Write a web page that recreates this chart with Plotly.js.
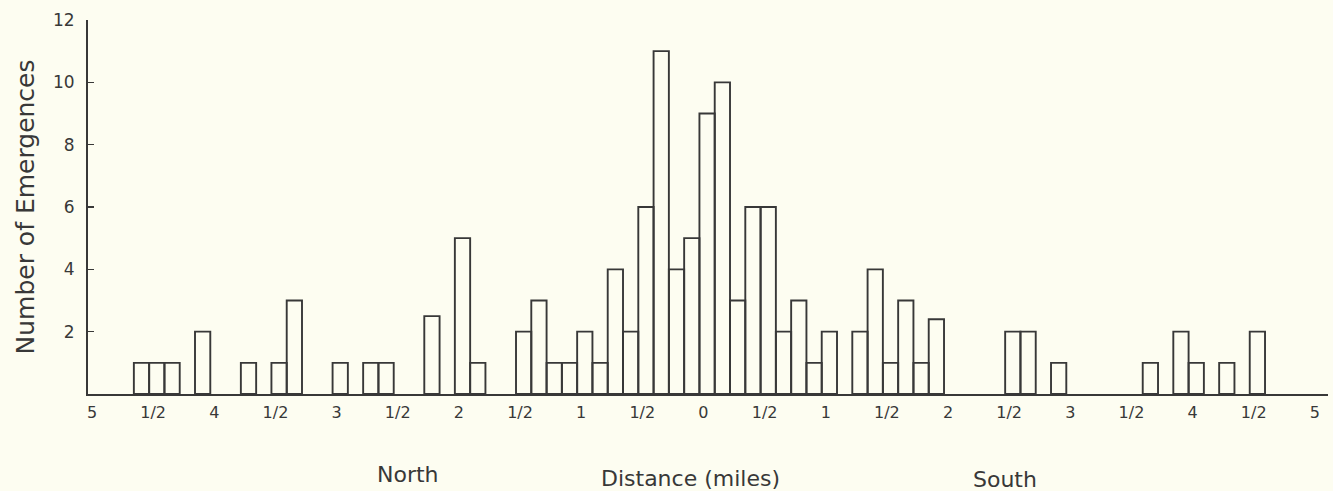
<!DOCTYPE html>
<html>
<head>
<meta charset="utf-8">
<script src="https://cdn.plot.ly/plotly-3.0.1.min.js"></script>
<style>
  html, body { margin: 0; padding: 0; background: #fdfdf1; }
  #chart { width: 1333px; height: 491px; }
</style>
</head>
<body>
<div id="chart"></div>
<script>
// Emergences counted in 1/8-mile strips; negative distance = North, positive = South.
const binWidthMiles = 0.125;
const distanceMiles = [
  -4.5625, -4.4375, -4.3125, -4.0625, -3.6875, -3.4375, -3.3125, -2.9375,
  -2.6875, -2.5625, -2.1875, -1.9375, -1.8125, -1.4375, -1.3125, -1.1875,
  -1.0625, -0.9375, -0.8125, -0.6875, -0.5625, -0.4375, -0.3125, -0.1875,
  -0.0625, 0.0625, 0.1875, 0.3125, 0.4375, 0.5625, 0.6875, 0.8125,
  0.9375, 1.0625, 1.3125, 1.4375, 1.5625, 1.6875, 1.8125, 1.9375,
  2.5625, 2.6875, 2.9375, 3.6875, 3.9375, 4.0625, 4.3125, 4.5625
];
const emergences = [
  1, 1, 1, 2, 1, 1, 3, 1,
  1, 1, 2.5, 5, 1, 2, 3, 1,
  1, 2, 1, 4, 2, 6, 11, 4,
  5, 9, 10, 3, 6, 6, 2, 3,
  1, 2, 2, 4, 1, 3, 1, 2.4,
  2, 2, 1, 1, 2, 1, 1, 2
];

// Axis ticks: distance from the origin in half-mile steps
const tickMiles = [-5, -4.5, -4, -3.5, -3, -2.5, -2, -1.5, -1, -0.5, 0,
                   0.5, 1, 1.5, 2, 2.5, 3, 3.5, 4, 4.5, 5];
const tickLabels = ['5', '1/2', '4', '1/2', '3', '1/2', '2', '1/2', '1', '1/2', '0',
                    '1/2', '1', '1/2', '2', '1/2', '3', '1/2', '4', '1/2', '5'];
const countTicks = [2, 4, 6, 8, 10, 12];

const ink = '#383838';
const paper = '#fdfdf1';
const fontFamily = 'DejaVu Sans, sans-serif';

const trace = {
  type: 'bar',
  x: distanceMiles,
  y: emergences,
  width: distanceMiles.map(() => binWidthMiles),
  marker: { color: 'rgba(0,0,0,0)', line: { color: ink, width: 1.9 } },
  hoverinfo: 'x+y'
};

const layout = {
  width: 1333,
  height: 491,
  margin: { l: 88, r: 5, t: 20, b: 97 },
  paper_bgcolor: paper,
  plot_bgcolor: paper,
  showlegend: false,
  font: { family: fontFamily, color: ink },
  xaxis: {
    range: [-5, 5.14],
    showgrid: false,
    zeroline: false,
    showline: true,
    linecolor: ink,
    linewidth: 2,
    ticks: '',
    tickmode: 'array',
    tickvals: tickMiles,
    ticktext: tickLabels,
    tickfont: { family: fontFamily, size: 16, color: ink },
    ticklabelshift: 4,
    ticklabelstandoff: 3
  },
  yaxis: {
    range: [0, 12],
    showgrid: false,
    zeroline: false,
    showline: true,
    linecolor: ink,
    linewidth: 2,
    ticks: 'inside',
    ticklen: 6,
    tickwidth: 1.5,
    tickcolor: ink,
    tickmode: 'array',
    tickvals: countTicks,
    ticktext: countTicks.map(String),
    tickfont: { family: fontFamily, size: 17, color: ink },
    ticklabelstandoff: 8,
    title: {
      text: 'Number of Emergences',
      font: { family: fontFamily, size: 25, color: ink },
      standoff: 11
    }
  },
  annotations: [
    { text: 'North', xref: 'paper', yref: 'paper', x: 0.258, y: -0.214,
      xanchor: 'center', yanchor: 'middle', showarrow: false,
      font: { family: fontFamily, size: 22, color: ink } },
    { text: 'Distance (miles)', xref: 'paper', yref: 'paper', x: 0.4855, y: -0.225,
      xanchor: 'center', yanchor: 'middle', showarrow: false,
      font: { family: fontFamily, size: 22, color: ink } },
    { text: 'South', xref: 'paper', yref: 'paper', x: 0.7395, y: -0.228,
      xanchor: 'center', yanchor: 'middle', showarrow: false,
      font: { family: fontFamily, size: 22, color: ink } }
  ]
};

Plotly.newPlot('chart', [trace], layout, { displayModeBar: false, staticPlot: true });
</script>
</body>
</html>
